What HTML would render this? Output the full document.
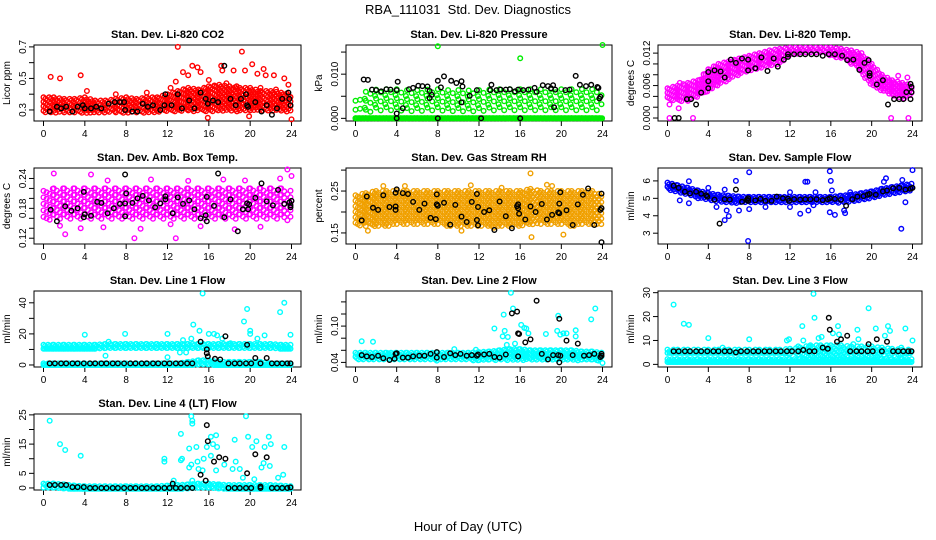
<!DOCTYPE html>
<html><head><meta charset="utf-8"><style>
html,body{margin:0;padding:0;background:#fff;}
svg{display:block;font-family:"Liberation Sans",Arial,sans-serif;}
</style></head><body>
<svg id="chart" width="936" height="540" viewBox="0 0 936 540" xmlns="http://www.w3.org/2000/svg">
<text x="468" y="14" text-anchor="middle" font-size="13" xml:space="preserve">RBA_111031  Std. Dev. Diagnostics</text>
<text x="468" y="531" text-anchor="middle" font-size="13">Hour of Day (UTC)</text>
</svg>
<script>
// ---- data ----
const xTicks = [0,4,8,12,16,20,24];
const baseHours = [0.6,1.1,1.7,2.2,2.8,3.3,3.9,4.5,5.0,5.6,6.1,6.7,7.2,7.8,8.4,8.9,9.5,10.0,10.6,11.1,11.7,12.2,12.8,13.3,13.9,14.4,17.9,18.5,19.0,19.6,20.1,21.0,22.1,22.6,23.1,23.6,23.9];

const co2BandLo = [0.28,0.28,0.28,0.28,0.28,0.28,0.28,0.28,0.28,0.28,0.28,0.28,0.29,0.29,0.29,0.29,0.29,0.29,0.29,0.29,0.29,0.29,0.29,0.29,0.29];
const co2BandHi = [0.38,0.38,0.37,0.37,0.38,0.36,0.36,0.37,0.38,0.37,0.38,0.38,0.40,0.42,0.44,0.43,0.45,0.46,0.45,0.44,0.44,0.42,0.42,0.41,0.40];
const co2Outliers = [[0.7,0.51],[1.6,0.50],[3.6,0.52],[4.2,0.42],[7,0.40],[10,0.41],[12.3,0.44],[13,0.70],[12.8,0.48],[13.5,0.54],[14,0.52],[14.4,0.58],[14.9,0.57],[15.2,0.54],[16,0.49],[16.5,0.45],[17.2,0.58],[17.3,0.55],[18.4,0.55],[19.2,0.67],[19.5,0.55],[20.2,0.59],[20.7,0.53],[21.3,0.56],[21.5,0.52],[22.3,0.52],[23.3,0.50],[23.7,0.46],[15.9,0.25],[19.9,0.26],[24,0.24],[18.7,0.45],[17.7,0.47],[22.5,0.43],[21,0.44]];
const co2Black = [[0.6,0.29],[1.3,0.32],[1.7,0.31],[2.2,0.32],[2.8,0.29],[3.3,0.32],[3.8,0.33],[4,0.31],[4.6,0.31],[5.1,0.32],[5.6,0.31],[6.3,0.34],[6.9,0.35],[7.4,0.35],[7.8,0.35],[7.9,0.30],[8.6,0.29],[9.1,0.29],[9.6,0.34],[10.1,0.32],[10.6,0.33],[11.3,0.30],[11.7,0.33],[11.8,0.40],[12.4,0.33],[13,0.40],[13.4,0.31],[14.1,0.36],[14.6,0.31],[15.2,0.41],[15.7,0.37],[15.9,0.34],[16.4,0.36],[16.9,0.35],[17.5,0.58],[18.1,0.37],[18.6,0.33],[19.1,0.37],[19.6,0.40],[19.7,0.33],[19.8,0.32],[20.5,0.35],[21.1,0.29],[21.6,0.33],[22.1,0.27],[22.6,0.31],[23.1,0.37],[23.7,0.41],[23.8,0.37],[23.9,0.33]];

const presZeroLo = [0,0,0,0,0,0,0,0,0,0,0,0,0,0,0,0,0,0,0,0,0,0,0,0,0];
const presZeroHi = [0,0,0,0,0,0,0,0,0,0,0,0,0,0,0,0,0,0,0,0,0,0,0,0,0];
const presBandLo = [0.0012,0.0012,0.0012,0.0012,0.0012,0.0012,0.0012,0.0012,0.0012,0.0012,0.0012,0.0012,0.0012,0.0012,0.0012,0.0012,0.0012,0.0012,0.0012,0.0012,0.0012,0.0012,0.0012,0.0012,0.0012];
const presBandHi = [0.0040,0.0060,0.0065,0.0066,0.0066,0.0064,0.0064,0.0065,0.0066,0.0064,0.0064,0.0063,0.0064,0.0065,0.0066,0.0066,0.0066,0.0066,0.0066,0.0066,0.0066,0.0066,0.0066,0.0066,0.0066];
const presOutliers = [[8,0.0163],[16,0.0136],[24,0.0166]];
const presBlack = [[0.8,0.0088],[1.2,0.0087],[1.6,0.0065],[2,0.0064],[2.5,0.0061],[3,0.0066],[3.4,0.0065],[4,0.0064],[4.1,0.0083],[4,0.0011],[4.6,0.0023],[5.2,0.0066],[5.6,0.0069],[6.1,0.0074],[6.5,0.0073],[7,0.0072],[7.2,0.0062],[7.2,0.0046],[7.4,0.0053],[8,0.0085],[8.6,0.0095],[8.3,0.0070],[9.3,0.0085],[9.8,0.0080],[10.3,0.0084],[10.4,0.0072],[10.3,0.0036],[11.1,0.0051],[11.8,0.0064],[12.2,0.0],[13.2,0.0076],[13.1,0.0064],[13.7,0.0064],[14.1,0.0065],[14.6,0.0065],[15,0.0066],[15.5,0.0061],[15.8,0.0065],[16.3,0.0064],[16.8,0.0065],[17.4,0.0069],[17.6,0.0060],[18.2,0.0075],[18.7,0.0073],[19.0,0.0068],[19.2,0.0075],[19.3,0.0025],[19.4,0.0065],[20.4,0.0064],[20.8,0.0065],[21.4,0.0096],[21.8,0.0076],[22.4,0.0073],[22.9,0.0076],[23.5,0.0071],[23.6,0.0069],[23.8,0.0049],[23.7,0.0045],[4,0.0],[8,0.0],[16,0.0]];

const tempBandLo = [0.0035,0.003,0.003,0.004,0.005,0.006,0.007,0.008,0.0085,0.009,0.0095,0.010,0.0115,0.012,0.012,0.012,0.0115,0.011,0.010,0.008,0.006,0.005,0.004,0.0035,0.004];
const tempBandHi = [0.0055,0.006,0.0065,0.007,0.009,0.010,0.0105,0.011,0.0115,0.012,0.0125,0.0128,0.013,0.013,0.013,0.013,0.013,0.0128,0.0125,0.012,0.010,0.008,0.007,0.0065,0.006];
const tempOutliers = [[0.2,0.0],[2.5,0.0],[21.9,0.0],[23.6,0.0],[1.1,0.0018],[0.2,0.0025],[1.2,0.0065],[22.6,0.0078],[23.5,0.0075]];
const tempBlack = [[0.7,0.0],[1.1,0.0],[1.9,0.0035],[2.3,0.0035],[2.8,0.0025],[3.3,0.0047],[4,0.0085],[4,0.0068],[4,0.0055],[4.6,0.0088],[5.2,0.0086],[5.6,0.0075],[6.2,0.0108],[6.7,0.0102],[7.3,0.0110],[7.9,0.0108],[7.9,0.0088],[8.6,0.0092],[9.2,0.0112],[9.8,0.0087],[10.4,0.0110],[10.8,0.0095],[11.4,0.0108],[11.8,0.0113],[11.8,0.0118],[12.4,0.0118],[13,0.0118],[13.5,0.0118],[14.1,0.0118],[14.6,0.0118],[15.2,0.0115],[15.8,0.0118],[16.4,0.0118],[17.1,0.0115],[17.6,0.0107],[18.2,0.0108],[18.8,0.0089],[19.3,0.0102],[19.7,0.0107],[19.8,0.0083],[19.8,0.0078],[20.5,0.0062],[21.1,0.0070],[21.6,0.0025],[22.2,0.0035],[22.7,0.0035],[23.1,0.0035],[23.4,0.0048],[23.8,0.0063],[23.9,0.0058],[23.9,0.0048],[23.8,0.0035]];

const ambBandLo = [0.155,0.155,0.155,0.155,0.155,0.155,0.155,0.155,0.155,0.155,0.155,0.155,0.155,0.155,0.155,0.155,0.155,0.155,0.155,0.155,0.155,0.155,0.155,0.155,0.155];
const ambBandHi = [0.215,0.22,0.22,0.22,0.22,0.22,0.22,0.22,0.22,0.22,0.22,0.22,0.22,0.22,0.22,0.22,0.22,0.22,0.22,0.22,0.22,0.22,0.22,0.22,0.215];
const ambOutliers = [[1,0.250],[4.6,0.248],[2.1,0.128],[8.8,0.120],[12.8,0.120],[5.8,0.142],[3.6,0.140],[23.6,0.258],[21,0.143],[18.5,0.138],[24,0.245],[9.4,0.139],[6.2,0.236],[10.4,0.238],[14,0.235],[17.4,0.238],[19.5,0.236],[22.9,0.240],[1.6,0.145],[15.2,0.144],[12.3,0.148]];
const ambBlack = [[0.7,0.177],[1.3,0.154],[2.1,0.184],[2.7,0.175],[3.3,0.180],[3.9,0.213],[3.9,0.162],[4,0.168],[4.6,0.165],[5.2,0.193],[5.6,0.191],[6.2,0.170],[6.8,0.180],[7.4,0.189],[7.9,0.190],[7.9,0.248],[7.9,0.164],[8,0.210],[8.6,0.191],[9.1,0.200],[9.6,0.205],[10.2,0.196],[10.8,0.182],[11.3,0.190],[11.8,0.198],[11.8,0.204],[12.5,0.170],[13.0,0.202],[13.5,0.189],[14.1,0.196],[14.6,0.178],[15.2,0.160],[15.7,0.166],[15.8,0.154],[15.8,0.203],[16.5,0.185],[16.9,0.250],[17.5,0.162],[18.1,0.198],[18.8,0.134],[19.3,0.178],[19.7,0.190],[19.8,0.178],[19.9,0.188],[20.5,0.201],[21.1,0.230],[21.6,0.194],[22.2,0.186],[22.7,0.217],[23.3,0.189],[23.9,0.186],[23.8,0.192],[23.9,0.182],[24,0.195]];

const rhBandLo = [0.17,0.165,0.165,0.165,0.17,0.17,0.17,0.17,0.17,0.165,0.165,0.165,0.165,0.16,0.165,0.165,0.165,0.165,0.17,0.17,0.17,0.165,0.17,0.17,0.17];
const rhBandHi = [0.24,0.245,0.25,0.25,0.25,0.25,0.25,0.25,0.25,0.25,0.25,0.25,0.25,0.25,0.25,0.25,0.25,0.255,0.25,0.25,0.25,0.25,0.25,0.25,0.24];
const rhOutliers = [[17,0.292],[17.1,0.140],[20.2,0.146],[18.6,0.265],[11.2,0.264],[4.8,0.262],[2.7,0.262],[19.1,0.262],[1.2,0.155],[10.3,0.155],[14.2,0.258]];
const rhBlack = [[0.6,0.180],[1.1,0.237],[1.7,0.210],[2.2,0.205],[2.7,0.240],[3.3,0.212],[3.9,0.213],[3.9,0.205],[3.9,0.246],[4,0.254],[4.6,0.245],[5.1,0.243],[5.6,0.224],[6.2,0.205],[6.7,0.220],[7.3,0.186],[7.8,0.183],[7.9,0.242],[7.9,0.218],[8.0,0.215],[8.6,0.222],[9.2,0.170],[9.7,0.217],[10.3,0.189],[10.8,0.176],[11.3,0.224],[11.8,0.243],[11.8,0.181],[11.9,0.168],[11.9,0.212],[12.5,0.200],[13,0.204],[13.5,0.157],[14,0.225],[14.6,0.190],[15.2,0.161],[15.7,0.214],[15.8,0.209],[15.9,0.196],[15.8,0.218],[16.5,0.182],[17,0.213],[17.5,0.200],[18.1,0.219],[18.6,0.182],[19.1,0.193],[19.7,0.199],[19.8,0.197],[19.8,0.220],[19.9,0.247],[20.5,0.204],[21.1,0.169],[21.6,0.218],[22.1,0.241],[22.6,0.256],[23.2,0.169],[23.8,0.205],[23.9,0.209],[23.9,0.244],[23.9,0.128]];

const flowBandLo = [5.5,5.35,5.2,5.05,4.9,4.8,4.75,4.72,4.72,4.72,4.72,4.72,4.72,4.72,4.72,4.72,4.72,4.75,4.8,4.9,5.0,5.15,5.25,5.35,5.45];
const flowBandHi = [5.9,5.75,5.6,5.45,5.3,5.2,5.15,5.1,5.08,5.08,5.08,5.08,5.08,5.08,5.08,5.08,5.08,5.15,5.2,5.3,5.4,5.55,5.65,5.75,5.85];
const flowOutliers = [[2.1,5.98],[2.1,4.72],[4,5.6],[5.6,5.5],[5.6,3.75],[6,3.98],[5.8,4.3],[6.7,6.0],[7,4.3],[7.9,2.55],[8,6.5],[8,4.38],[9.6,4.5],[12,5.35],[12,4.5],[13,4.12],[13.5,5.95],[13.7,5.95],[13.8,4.3],[15.9,6.55],[16,6.0],[16.1,5.45],[16.4,4.05],[15.9,4.2],[17.3,4.3],[17.4,4.15],[17.9,5.35],[21.2,5.95],[21.4,6.15],[22.9,3.25],[23,6.05],[23.3,4.78],[24,6.62],[1.2,4.88],[3,5.0],[4.8,4.5],[14.3,4.6],[14.5,5.35],[20.6,5.2]];
const flowBlack = [[0.6,5.72],[1.1,5.6],[1.7,5.38],[2.2,5.28],[2.8,5.38],[3.3,5.26],[3.8,5.18],[3.9,5.1],[4.6,4.93],[5.1,3.55],[5.6,4.95],[6.1,4.93],[6.7,5.5],[7.3,4.8],[7.8,4.92],[7.9,5.0],[7.9,4.85],[8.6,4.88],[9.1,4.97],[9.6,4.85],[10.2,4.85],[10.7,5.1],[11.3,5.0],[11.8,4.98],[11.9,4.85],[12.4,4.95],[13,4.93],[13.5,4.95],[14,4.95],[14.6,4.95],[15.2,4.9],[15.7,4.95],[15.9,5.0],[16.4,4.97],[17,4.92],[17.5,4.57],[18.1,4.95],[18.6,5.1],[19.2,5.13],[19.6,5.2],[19.8,5.25],[20.4,5.2],[21.1,5.4],[21.5,5.45],[22.1,5.58],[22.7,5.6],[23.3,5.5],[23.8,5.55],[24,5.6]];

const l1BandLo = [10.5,10.5,10.5,10.5,10.5,10.5,10.5,10.5,10.5,10.5,10.5,10.5,10.5,10.5,10.5,10.5,10.5,10.5,10.5,10.5,10.5,10.5,10.5,10.5,10.5];
const l1BandHi = [13,13,13,13,13,13,13.5,13.5,13.5,13.5,13.5,13.5,13.5,13.5,13.5,13.5,13.5,13.5,13.5,13.5,13.5,13.5,13.5,13,13];
const l1LowLo = [0,0,0,0,0,0,0,0,0,0,0,0,0,0,0,0,0,0,0,0,0,0,0,0,0];
const l1LowHi = [1,1,1,1,1,1,1,1,1,1,1,1,1,1,2,3,3,2,2,2,2,2,1,1,1];
const l1Outliers = [[4,19.5],[6,6],[6.3,15],[7.9,20],[12,20],[12,5],[14.5,26],[15.1,22],[15.4,46],[16,20],[16.5,20],[16.8,19],[17.3,17],[19.4,28],[19.7,36],[20,22],[20,20],[20.7,17],[21.4,19],[22.9,34],[23.3,40],[23.9,19.5],[13.5,16],[14.3,17],[18.1,14],[13.2,8],[13.8,8]];
const l1BaseY = [1,1,1,1,1,1,1,1,1,1,1,1,1,1,1,1,1,1,1,1,1,1,1,1,1,1,1,1,1,1,1,1,1,1,1,1,1];
const l1Spikes = [[15.2,15],[15.8,10],[15.8,7.5],[15.9,5.5],[16.6,4],[17.1,3.5],[17.6,18.5],[19.7,13],[20.5,4.5],[21.6,4.5]];

const l2BandLo = [0.043,0.043,0.043,0.043,0.043,0.043,0.043,0.043,0.043,0.043,0.043,0.043,0.043,0.043,0.043,0.043,0.043,0.043,0.043,0.043,0.043,0.043,0.043,0.043,0.043];
const l2BandHi = [0.056,0.056,0.056,0.056,0.056,0.056,0.056,0.056,0.056,0.056,0.056,0.056,0.057,0.058,0.06,0.062,0.062,0.06,0.06,0.06,0.06,0.06,0.058,0.058,0.056];
const l2Outliers = [[0.6,0.075],[1.7,0.074],[3.2,0.055],[7.9,0.043],[9.6,0.062],[11.7,0.061],[13.5,0.096],[14.3,0.083],[14.5,0.092],[14.7,0.069],[14.8,0.082],[15.1,0.155],[15.3,0.129],[15.5,0.071],[16.1,0.102],[16.4,0.097],[16.6,0.096],[16.8,0.088],[18.5,0.087],[19.7,0.117],[19.6,0.092],[19.9,0.086],[20.2,0.088],[20.5,0.088],[21.4,0.093],[21.4,0.083],[22.9,0.111],[23.3,0.129],[23.6,0.043],[24,0.039],[14.4,0.119]];
const l2Black = [[0.6,0.052],[1.1,0.050],[1.6,0.049],[2.2,0.051],[2.7,0.047],[3.3,0.044],[3.8,0.046],[3.9,0.054],[4.0,0.055],[4.6,0.048],[5.1,0.048],[5.6,0.050],[6.2,0.051],[6.7,0.051],[7.3,0.054],[7.9,0.057],[7.9,0.048],[8.6,0.049],[9.2,0.055],[9.7,0.052],[10.2,0.054],[10.8,0.051],[11.3,0.052],[11.8,0.051],[11.9,0.053],[12.5,0.053],[13,0.054],[13.5,0.049],[14,0.048],[14.6,0.053],[15.2,0.121],[15.7,0.124],[15.8,0.088],[15.9,0.087],[15.8,0.050],[16.5,0.073],[17,0.078],[17.6,0.142],[18.1,0.054],[18.7,0.045],[19.2,0.052],[19.7,0.052],[19.8,0.112],[19.8,0.040],[19.9,0.051],[20.5,0.076],[21.1,0.052],[21.6,0.071],[22.2,0.051],[22.7,0.052],[23.2,0.054],[23.9,0.054],[23.8,0.049],[23.9,0.051]];

const l3LowLo = [1,1,1,1,1,1,1,1,1,1,1,1,1,1,1,1,1,1,1,1,1,1,1,1,1];
const l3LowHi = [2.2,2.2,2.2,2.2,2.2,2.2,2.2,2.2,2.2,2.2,2.2,2.2,2.2,2.2,2.2,2.2,2.2,2.2,2.2,2.2,2.2,2.2,2.2,2.2,2.2];
const l3MidLo = [4.8,4.8,4.8,4.8,4.8,4.8,4.8,4.8,4.8,4.8,4.8,4.8,4.5,3,2.5,2.5,2.5,2.5,3,3,3,3,4,4.5,4.8];
const l3MidHi = [6.2,6.2,6.2,6.2,6.2,6.2,6.2,6.2,6.2,6.2,6.2,6.2,6.5,7,8,8,8,8,7.5,7.5,7.5,7,6.5,6.2,6.2];
const l3Outliers = [[0.6,25],[1.6,17],[2.1,16.5],[4,11],[5.4,7],[8,10.5],[11.7,10],[11.9,10.5],[13.2,16],[13.3,10],[14.3,29.5],[14.4,19.5],[14.8,11],[15.1,11.5],[16.2,13],[16.7,16],[16.8,12.5],[18.2,8.5],[18.6,14.5],[18.7,10.5],[19.7,23.5],[20.4,15],[21.3,12],[21.6,16],[21.8,14],[22.9,7],[23.3,15],[24,10],[12.8,7.5],[13.9,7.5]];
const l3BaseY = [5.5,5.5,5.5,5.5,5.5,5.5,5.5,5.5,5.5,5.5,5.5,5,5.5,5.5,5.5,5.5,5.5,5.5,5.5,5.5,5.5,5.5,5.5,6,5.5,5.5,5.5,5.5,5.5,5.5,5.5,5.5,5.5,5.5,5.5,5.5,5.5];
const l3Spikes = [[15.8,19.5],[15.9,14.5],[16.6,9.5],[17,10.5],[17.6,12],[19.7,8.5],[20.5,10.5],[21.5,9.5],[15.2,7],[15.7,6.5]];

const l4BandLo = [-0.3,-0.3,-0.3,-0.3,-0.3,-0.3,-0.3,-0.3,-0.3,-0.3,-0.3,-0.3,-0.3,-0.3,-0.3,-0.3,-0.3,-0.3,-0.3,-0.3,-0.3,-0.3,-0.3,-0.3,-0.3];
const l4BandHi = [1.5,1.5,1.2,0.8,0.6,0.6,0.6,0.6,0.6,0.6,0.6,0.6,0.8,1,1.2,1.5,1.5,1.2,1,1,1,1,1,0.8,0.6];
const l4Outliers = [[0.6,23],[1.6,15],[2.1,13],[3.6,11],[11.7,9],[11.7,10],[12.6,2.5],[13.3,18.5],[13.3,9.5],[13.4,10],[14.1,13.5],[14.1,7],[14.3,8],[14.3,24.5],[14.4,23],[14.4,22],[14.8,14],[14.9,9],[15,6.5],[15.4,6],[15.5,10],[15.8,14],[16.2,17.5],[16.2,11],[16.4,15],[16.7,18],[16.7,6],[16.8,14],[17.5,8],[18.3,6.5],[18.5,16.5],[18.6,9],[19,6.5],[19.6,24.5],[19.8,17.5],[20.2,14],[20.4,3],[20.6,16],[21.1,7],[21.3,8.5],[21.4,14],[21.8,17.5],[22,15],[21.9,7.5],[22.7,3.5],[23.2,4.5],[23.3,14],[19.3,3.5],[17.1,1],[14.4,2.5]];
const l4BaseY = [1,1,1,1,0.3,0.3,0.3,0,0,0,0,0,0,0,0,0,0,0,0,0,0,0,0,0,0,0,0,0,0,0,0,0,0,0,0,0,0.2];
const l4Spikes = [[12.5,1.5],[15.2,4.5],[15.7,2.5],[15.8,21.5],[15.9,16],[16.5,9],[17,10.5],[17.6,10],[19.7,5],[20.5,11.5],[21,0.5],[21.6,10.5]];

// ---- rendering ----
const NS = 'http://www.w3.org/2000/svg';
const svg = document.getElementById('chart');
const colL = [34,346,658], colR = [301,612,922], rowT = [45,168,291,414], BOXH = 76;

function mk(tag, attrs, parent){ const e=document.createElementNS(NS,tag); for(const k in attrs) e.setAttribute(k,attrs[k]); (parent||svg).appendChild(e); return e; }

function makePanel(col,row,dom,yTicks,yLabels,title,ytitle,name){
  const L=colL[col],R=colR[col],T=rowT[row],B=T+BOXH;
  const g=mk('g',{});
  
  
  const p={g,L,R,T,B,
    x:v=>L+9.5+v*(R-L-19)/24,
    y:v=>B-(v-dom[0])/(dom[1]-dom[0])*(B-T)};
  const box=mk('rect',{x:L,y:T,width:R-L,height:B-T,fill:'none',stroke:'#000','stroke-width':1},g);
  
  
  const t=mk('text',{x:(L+R)/2,y:T-7,'text-anchor':'middle','font-size':11,'font-weight':'bold'},g);
  t.textContent=title;
  
  
  const yt=mk('text',{transform:`translate(${L-24},${(T+B)/2}) rotate(-90)`,'text-anchor':'middle','font-size':10},g);
  yt.textContent=ytitle;
  
  
  const xa=mk('g',{},g);
  
  
  xTicks.forEach(v=>{ const xx=p.x(v);
    mk('line',{x1:xx,x2:xx,y1:B,y2:B+5,stroke:'#000'},xa);
    const tl=mk('text',{x:xx,y:B+16,'text-anchor':'middle','font-size':10},xa); tl.textContent=v;
    
    
  });
  mk('line',{x1:p.x(0),x2:p.x(24),y1:B,y2:B,stroke:'#000'},xa);
  const ya=mk('g',{},g);
  
  
  yTicks.forEach(v=>{ const yy=p.y(v); mk('line',{x1:L-5,x2:L,y1:yy,y2:yy,stroke:'#000'},ya); });
  yLabels.forEach(s=>{ const yy=p.y(parseFloat(s));
    const tl=mk('text',{transform:`translate(${L-8},${yy}) rotate(-90)`,'text-anchor':'middle','font-size':10},ya); tl.textContent=s;
    
    
  });
  p.marks=mk('g',{fill:'none','stroke-width':1.4},g);
  
  
  return p;
}
function pt(p,x,y,color){ mk('circle',{cx:p.x(x).toFixed(1),cy:p.y(y).toFixed(1),r:2.3,stroke:color},p.marks); }
function band(p,lo,hi,color,stepPx,xStep){
  for(let h=0;h<24;h++){
    let k=0;
    for(let x=h;x<h+1-1e-6;x+=xStep,k++){
      const t=x-h;
      const l=lo[h]+(lo[h+1]-lo[h])*t, u=hi[h]+(hi[h+1]-hi[h])*t;
      const y1=p.y(u), y2=p.y(l);
      const off=(k%3)*stepPx/3;
      for(let yy=y1+off; yy<=y2+0.01; yy+=stepPx){
        mk('circle',{cx:p.x(x).toFixed(1),cy:yy.toFixed(1),r:2.3,stroke:color},p.marks);
      }
      if(y2-y1<stepPx) mk('circle',{cx:p.x(x).toFixed(1),cy:y2.toFixed(1),r:2.3,stroke:color},p.marks);
    }
  }
}
function pts(p,arr,color){ arr.forEach(d=>pt(p,d[0],d[1],color)); }
function base(p,ys,color){ baseHours.forEach((h,i)=>pt(p,h,ys[i],color)); }

const RED='#ff0000', GRN='#00ee00', MAG='#ff00ff', ORG='#f0a000', BLU='#0000ff', CYN='#00ffff', BLK='#000';

let p;
p=makePanel(0,0,[0.23,0.712],[0.3,0.4,0.5,0.6,0.7],['0.3','0.5','0.7'],'Stan. Dev. Li-820 CO2','Licor ppm','co2');
band(p,co2BandLo,co2BandHi,RED,4.5,0.18); pts(p,co2Outliers,RED); pts(p,co2Black,BLK);

p=makePanel(1,0,[-0.0006,0.0166],[0,0.005,0.010,0.015],['0.000','0.010'],'Stan. Dev. Li-820 Pressure','kPa','pressure');
band(p,presZeroLo,presZeroHi,GRN,3,0.12); band(p,presBandLo,presBandHi,GRN,9,0.45); pts(p,presOutliers,GRN); pts(p,presBlack,BLK);

p=makePanel(2,0,[-0.00055,0.0135],[0,0.002,0.004,0.006,0.008,0.010,0.012],['0.000','0.006','0.012'],'Stan. Dev. Li-820 Temp.','degrees C','li820-temp');
band(p,tempBandLo,tempBandHi,MAG,4.5,0.18); pts(p,tempOutliers,MAG); pts(p,tempBlack,BLK);

p=makePanel(0,1,[0.1084,0.261],[0.12,0.14,0.16,0.18,0.20,0.22,0.24],['0.12','0.18','0.24'],'Stan. Dev. Amb. Box Temp.','degrees C','amb-box-temp');
band(p,ambBandLo,ambBandHi,MAG,6.5,0.3); pts(p,ambOutliers,MAG); pts(p,ambBlack,BLK);

p=makePanel(1,1,[0.1236,0.305],[0.15,0.20,0.25,0.30],['0.15','0.25'],'Stan. Dev. Gas Stream RH','percent','gas-rh');
band(p,rhBandLo,rhBandHi,ORG,5.5,0.22); pts(p,rhOutliers,ORG); pts(p,rhBlack,BLK);

p=makePanel(2,1,[2.38,6.74],[3,4,5,6],['3','4','5','6'],'Stan. Dev. Sample Flow','ml/min','sample-flow');
band(p,flowBandLo,flowBandHi,BLU,4,0.15); pts(p,flowOutliers,BLU); pts(p,flowBlack,BLK);

p=makePanel(0,2,[-1.3,47.6],[0,10,20,30,40],['0','20','40'],'Stan. Dev. Line 1 Flow','ml/min','line1-flow');
band(p,l1LowLo,l1LowHi,CYN,4,0.15); band(p,l1BandLo,l1BandHi,CYN,4,0.15); pts(p,l1Outliers,CYN); base(p,l1BaseY,BLK); pts(p,l1Spikes,BLK);

p=makePanel(1,2,[0.0324,0.158],[0.04,0.06,0.08,0.10,0.12,0.14],['0.04','0.10'],'Stan. Dev. Line 2 Flow','ml/min','line2-flow');
band(p,l2BandLo,l2BandHi,CYN,4,0.15); pts(p,l2Outliers,CYN); pts(p,l2Black,BLK);

p=makePanel(2,2,[-1.1,30.7],[0,10,20,30],['0','10','20','30'],'Stan. Dev. Line 3 Flow','ml/min','line3-flow');
band(p,l3LowLo,l3LowHi,CYN,4,0.15); band(p,l3MidLo,l3MidHi,CYN,5,0.2); pts(p,l3Outliers,CYN); base(p,l3BaseY,BLK); pts(p,l3Spikes,BLK);

p=makePanel(0,3,[-0.7,25.3],[0,5,10,15,20,25],['0','5','15','25'],'Stan. Dev. Line 4 (LT) Flow','ml/min','line4-flow');
band(p,l4BandLo,l4BandHi,CYN,4,0.15); pts(p,l4Outliers,CYN); base(p,l4BaseY,BLK); pts(p,l4Spikes,BLK);
</script>
</body></html>
